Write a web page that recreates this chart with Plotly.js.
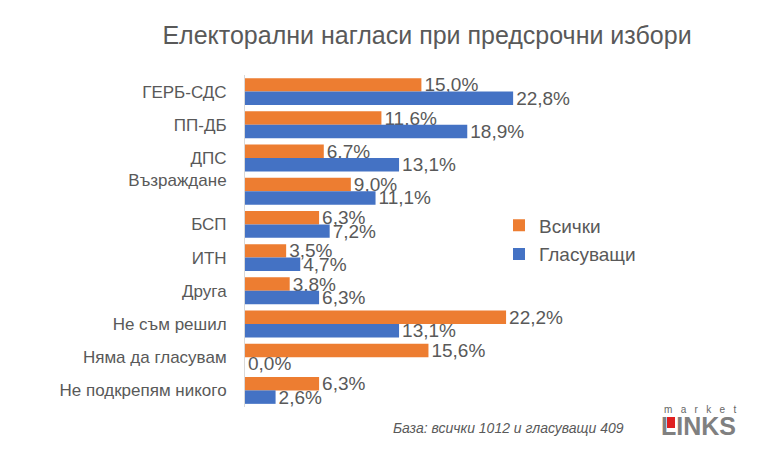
<!DOCTYPE html>
<html>
<head>
<meta charset="utf-8">
<script src="https://cdn.plot.ly/plotly-3.0.1.min.js"></script>
<style>html,body{margin:0;padding:0;background:#fff;}#chart{width:768px;height:461px;}</style>
</head>
<body>
<div id="chart"></div>
<script>
const categories = ["ГЕРБ-СДС", "ПП-ДБ", "ДПС", "Възраждане", "БСП", "ИТН", "Друга", "Не съм решил", "Няма да гласувам", "Не подкрепям никого"];
const tickLabels = ["ГЕРБ-СДС", "ПП-ДБ", "ДПС", "Възраждане<br>\u00a0", "БСП", "ИТН", "Друга", "Не съм решил", "Няма да гласувам", "Не подкрепям никого"];
const seriesNames = ["Всички", "Гласуващи"];
const allValues = [15.0, 11.6, 6.7, 9.0, 6.3, 3.5, 3.8, 22.2, 15.6, 6.3];
const voterValues = [22.8, 18.9, 13.1, 11.1, 7.2, 4.7, 6.3, 13.1, 0.0, 2.6];

const gray = "#595959";
const font = "Liberation Sans, Arial, sans-serif";

function barTrace(name, values, color, group) {
  return {
    type: "bar", orientation: "h", name: name,
    y: categories, x: values,
    marker: {color: color},
    texttemplate: "%{x:.1f}%", textposition: "outside", constraintext: "none",
    textfont: {size: 19, color: gray, family: font},
    cliponaxis: false, legendgroup: group,
    hoverinfo: "skip"
  };
}

const data = [
  barTrace(seriesNames[0], allValues, "#ED7D31", "a"),
  barTrace(seriesNames[1], voterValues, "#4472C4", "b")
];

const L = 245, W = 294, T = 75, H = 332;
function px(x) { return (x - L) / W; }
function py(y) { return (T + H - y) / H; }

const layout = {
  width: 768, height: 461,
  margin: {l: L, r: 768 - L - W, t: T, b: 461 - T - H, autoexpand: false},
  paper_bgcolor: "#fff", plot_bgcolor: "#fff",
  separators: ", ",
  font: {family: font, color: gray},
  barmode: "group", bargap: 0.19, bargroupgap: 0,
  title: {text: "Електорални нагласи при предсрочни избори", font: {size: 25, color: gray, family: font},
          x: 427/768, xanchor: "center", xref: "container", y: 1 - 35/461, yanchor: "middle", yref: "container"},
  xaxis: {range: [0, 25], showgrid: false, zeroline: false, showticklabels: false, showline: false, fixedrange: true},
  yaxis: {autorange: "reversed", type: "category", tickmode: "array", tickvals: categories, ticktext: tickLabels,
          showline: true, linecolor: "#d9d9d9", linewidth: 1, showgrid: false, zeroline: false,
          ticks: "outside", ticklen: 14, tickcolor: "rgba(0,0,0,0)",
          tickfont: {size: 17, color: gray, family: font}},
  showlegend: true,
  legend: {x: 499/768, xref: "container", xanchor: "left", y: 1 - 240/461, yref: "container", yanchor: "middle",
           font: {size: 19, color: gray, family: font}, traceorder: "grouped", tracegroupgap: 1,
           bgcolor: "rgba(0,0,0,0)"},
  annotations: [
    {text: "<i>База: всички 1012 и гласуващи 409</i>", xref: "paper", yref: "paper", x: px(626), y: py(428),
     xanchor: "right", yanchor: "middle", showarrow: false, font: {size: 14, color: gray, family: font}},
    {text: "<b>LINKS</b>", xref: "paper", yref: "paper", x: px(659), y: py(426),
     xanchor: "left", yanchor: "middle", showarrow: false, font: {size: 25, color: "#808080", family: font}},
    {text: "m\u00a0\u00a0\u00a0a\u00a0\u00a0\u00a0r\u00a0\u00a0\u00a0k\u00a0\u00a0\u00a0e\u00a0\u00a0\u00a0t", xref: "paper", yref: "paper", x: px(700), y: py(410),
     xanchor: "center", yanchor: "middle", showarrow: false, font: {size: 10, color: "#666", family: font}}
  ],
  shapes: [
    {type: "rect", xref: "paper", yref: "paper", x0: px(667), x1: px(675), y0: py(417), y1: py(428),
     fillcolor: "#E02020", line: {width: 0}, layer: "above"}
  ]
};

Plotly.newPlot("chart", data, layout, {displayModeBar: false, staticPlot: true});
</script>
</body>
</html>
